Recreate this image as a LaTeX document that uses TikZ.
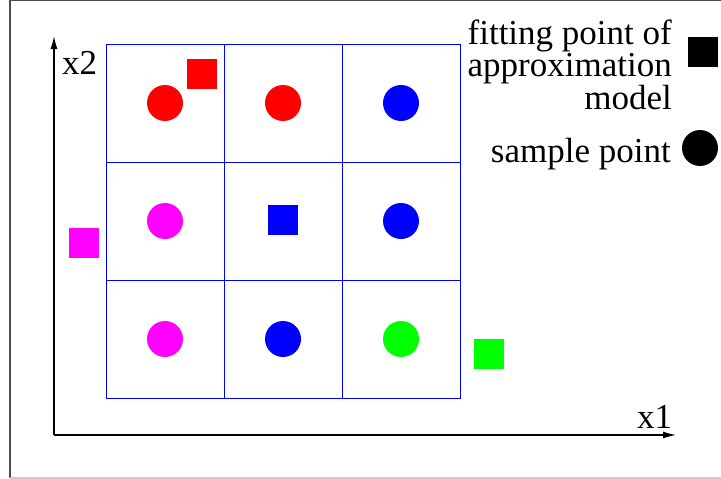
\documentclass[tikz,border=0pt]{standalone}
\usepackage{fontspec}
\setmainfont{Liberation Serif}
\usetikzlibrary{arrows.meta}
\definecolor{pmag}{RGB}{255,0,255}
\definecolor{pred}{RGB}{255,0,0}
\definecolor{pblue}{RGB}{0,0,255}
\definecolor{pgreen}{RGB}{0,255,0}
\begin{document}
\begin{tikzpicture}[x=1pt,y=-1pt,
  cell/.style={draw=pblue,line width=1pt},
  dot/.style={circle,minimum size=36pt,inner sep=0pt,fill=#1},
  sq/.style={rectangle,minimum size=30pt,inner sep=0pt,fill=#1},
  axis/.style={line width=1.2pt,-{Latex[length=13pt,width=7pt]}},
  lbl/.style={font=\fontsize{35}{29.5}\selectfont,inner sep=0pt}]
\useasboundingbox (0,0) rectangle (721,479);
% frame
\draw[line width=1.2pt,black!70] (10,478) -- (10,0.6) -- (722,0.6);
\draw[line width=1.2pt,black!20] (10,478) -- (722,478);
% grid
\foreach \i in {0,1,2}{
  \foreach \j in {0,1,2}{
    \draw[cell] (106+118*\i,44+118*\j) rectangle ++(118,118);
  }
}
% axes
\coordinate (o) at (54,435);
\coordinate (xend) at (676,435);
\coordinate (yend) at (54,36);
\draw[axis] (o) -- (xend);
\draw[axis] (o) -- (yend);
\node[lbl,anchor=base west] (x2) at (62,74) {x2};
\node[lbl,anchor=base west] (x1) at (637,428) {x1};
% sample points
\node[dot=pred] (c11) at (165,103) {};
\node[dot=pred] (c12) at (283,103) {};
\node[dot=pblue] (c13) at (401,103) {};
\node[dot=pmag] (c21) at (165,221) {};
\node[dot=pblue] (c23) at (401,221) {};
\node[dot=pmag] (c31) at (165,339) {};
\node[dot=pblue] (c32) at (283,339) {};
\node[dot=pgreen] (c33) at (401,339) {};
% fitting points
\node[sq=pred] (sr) at (202,74) {};
\node[sq=pblue] (sb) at (283,220) {};
\node[sq=pmag] (sm) at (84,243) {};
\node[sq=pgreen] (sg) at (489,354) {};
% legend
\node[lbl,align=right,anchor=north east] (leg1) at (672,20) {fitting point of\\approximation\\model};
\node[sq=black] (legsq) at (703,52) {};
\node[lbl,anchor=base east] (leg2) at (671,162) {sample point};
\node[dot=black] (legdot) at (700,148) {};
\end{tikzpicture}
\end{document}
